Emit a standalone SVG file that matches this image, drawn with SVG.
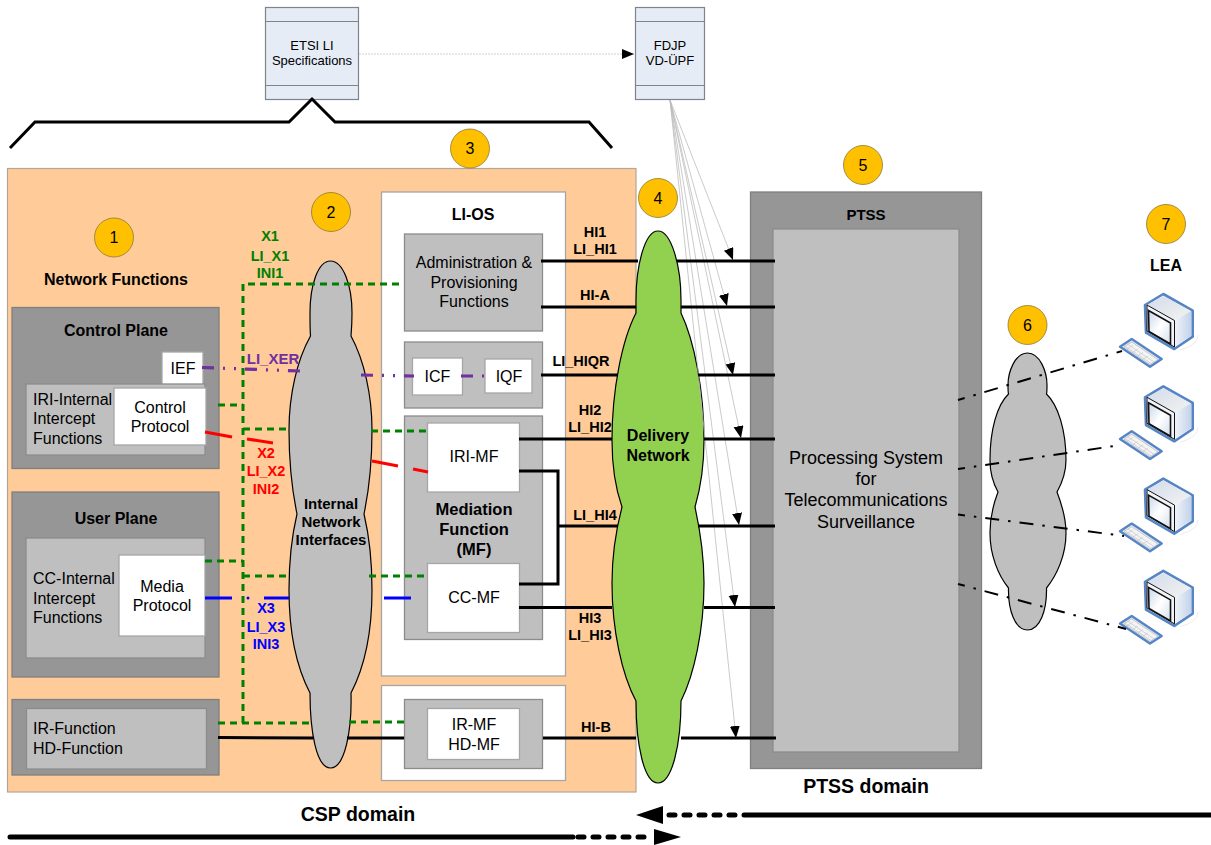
<svg xmlns="http://www.w3.org/2000/svg" xmlns:xlink="http://www.w3.org/1999/xlink" width="1211" height="845" viewBox="0 0 1211 845">
<style>
text{font-family:"Liberation Sans",Arial,sans-serif;text-anchor:middle;fill:#000}
.b{font-weight:bold}
.f15{font-size:16px}.f14{font-size:16px}
.s{text-anchor:start}
.lb{font-weight:bold;font-size:14.500px}
.dark{fill:#969696;stroke:#808080;stroke-width:1.3}
.mid{fill:#BFBFBF;stroke:#8c8c8c;stroke-width:1.3}
.wht{fill:#fff;stroke:#a6a6a6;stroke-width:1.3}
.spec{fill:#E6ECF6;stroke:#7f838c;stroke-width:1.2}
.num{fill:#FFC000;stroke:#8c7a3a;stroke-width:.8}
.cloud{stroke:#000;stroke-width:1.2}
.g{fill:none;stroke:#008000;stroke-width:3;stroke-dasharray:7 5}
.r{fill:none;stroke:#FF0000;stroke-width:3}
.bl{fill:none;stroke:#0000FF;stroke-width:3}
.p{fill:none;stroke:#7030A0;stroke-width:3.200;stroke-dasharray:12 9 2 9 2 9}
.k{fill:none;stroke:#000;stroke-width:3}
.dd{fill:none;stroke:#000;stroke-width:2;stroke-dasharray:14 9 2.500 9;stroke-dashoffset:7}
.t{fill:none;stroke:#bdbdbd;stroke-width:.8;marker-end:url(#ah)}
</style>
<defs>
<marker id="ah" markerUnits="userSpaceOnUse" markerWidth="14" markerHeight="12" refX="12" refY="5" orient="auto"><path d="M0 0L12 5L0 10Z" fill="#000"/></marker>
<linearGradient id="gf" x1="0" y1="0" x2="1" y2="1"><stop offset="0" stop-color="#c9d6ea"/><stop offset=".5" stop-color="#fff"/><stop offset="1" stop-color="#d5dfef"/></linearGradient>
<linearGradient id="gt" x1="0" y1="0" x2="1" y2="1"><stop offset="0" stop-color="#d3dced"/><stop offset="1" stop-color="#f3f3ef"/></linearGradient>
<linearGradient id="gs" x1="0" y1="0" x2="1" y2="0"><stop offset="0" stop-color="#f2f5fa"/><stop offset="1" stop-color="#c3d2ea"/></linearGradient>
<g id="pc">
<path d="M1180 350Q1198 345 1198 335" fill="none" stroke="#e6e6e6" stroke-width=".8"/>
<path d="M1163.300 294L1192.700 310.700V336.700L1174.300 349L1146 332.700L1145 305Z" fill="#fff" stroke="#5585C5" stroke-width="2.600" stroke-linejoin="round"/>
<path d="M1147 305L1163.500 296L1191 311L1174.500 320.500Z" fill="url(#gt)"/>
<path d="M1174.500 320.500L1191 311V336L1174.500 347Z" fill="url(#gs)"/>
<path d="M1147 305L1174.500 320.500V347L1147 331Z" fill="#f0f3f8" stroke="#111" stroke-width="1"/>
<path d="M1148.500 310.500L1170.500 323V344L1149 331.500Z" fill="url(#gf)" stroke="#111" stroke-width="1.600"/>
<path d="M1131.700 339L1161.700 359L1150 366.700L1120 346.700Z" fill="#e8ebee" stroke="#5585C5" stroke-width="2.400" stroke-linejoin="round"/>
<path d="M1131.700 342L1158 359.500L1150 364.500L1124 347Z" fill="#f4f4f4" stroke="#aab" stroke-width=".6"/>
<path d="M1128 344.500L1154 362M1125.500 346.500L1151 363.500M1133 345L1127 349M1138 349L1132 353M1143 352.500L1137 356.500M1148 356L1142 360" stroke="#c4c8cc" stroke-width=".7" fill="none"/>
</g>
</defs>

<rect width="1211" height="845" fill="#fff"/>

<g id="etsi"><rect class="spec" x="265.500" y="7.500" width="93" height="92"/><path class="spec" d="M265.500 21.500H358.500M265.500 85.500H358.500"/><text x="312" y="50" font-size="13">ETSI LI</text><text x="312" y="65" font-size="13">Specifications</text></g>
<g id="fdjp"><rect class="spec" x="635.500" y="7.500" width="69" height="92"/><path class="spec" d="M635.500 21.500H704.500M635.500 85.500H704.500"/><text x="670" y="50" font-size="13">FDJP</text><text x="670" y="65" font-size="13">VD-ÜPF</text></g>
<path id="brace" d="M10 148L35 122H289L312 99L335 122H589L612 148" fill="none" stroke="#000" stroke-width="3"/>

<g id="csp"><rect x="7.500" y="168.500" width="628.500" height="623.500" fill="#FFCC99" stroke="#b5a596" stroke-width="1.200"/></g>

<g id="network-functions-label"><text class="b" x="116" y="285" font-size="16">Network Functions</text></g>

<g id="control-plane"><rect class="dark" x="12" y="307.500" width="207" height="161"/><text class="b f15" x="116" y="336">Control Plane</text>
<rect class="wht" x="162" y="352" width="41" height="33"/><text x="183" y="374" class="f15">IEF</text>
<rect class="mid" x="26" y="384" width="179" height="71"/><text x="33" y="405" class="f14 s">IRI-Internal</text><text x="33" y="424" class="f14 s">Intercept</text><text x="33" y="444" class="f14 s">Functions</text>
<rect class="wht" x="114" y="388" width="92" height="57"/><text x="160" y="413" class="f14">Control</text><text x="160" y="432" class="f14">Protocol</text></g>

<g id="user-plane"><rect class="dark" x="12" y="492" width="207" height="185"/><text class="b f15" x="116" y="524">User Plane</text>
<rect class="mid" x="26" y="538" width="179" height="120"/><text x="33" y="584" class="f14 s">CC-Internal</text><text x="33" y="604" class="f14 s">Intercept</text><text x="33" y="623" class="f14 s">Functions</text>
<rect class="wht" x="119" y="555" width="86" height="81"/><text x="162" y="592" class="f14">Media</text><text x="162" y="611" class="f14">Protocol</text></g>

<g id="ir-function"><rect class="dark" x="12" y="699.500" width="207" height="75.500"/><rect class="mid" x="26.500" y="708.500" width="180" height="60.500"/><text x="33" y="734" class="f14 s">IR-Function</text><text x="33" y="754" class="f14 s">HD-Function</text></g>

<g id="li-os"><rect class="wht" x="381.500" y="192" width="184" height="484"/><text class="b" x="473" y="220" font-size="16">LI-OS</text>
<rect class="mid" x="404.500" y="234" width="138" height="97"/><text x="474" y="268" class="f14">Administration &amp;</text><text x="474" y="288" class="f14">Provisioning</text><text x="474" y="307" class="f14">Functions</text>
<rect class="mid" x="404.500" y="342" width="138" height="66"/><rect class="wht" x="412.500" y="358" width="50" height="37"/><text x="437.500" y="382" class="f15">ICF</text><rect class="wht" x="485" y="359" width="47" height="34"/><text x="509" y="382" class="f15">IQF</text>
<rect class="mid" x="404.500" y="416" width="138" height="223.500"/><rect class="wht" x="427.500" y="423" width="92" height="69"/><text x="474" y="462" class="f14">IRI-MF</text>
<text class="b" font-size="16.500" x="474" y="515">Mediation</text><text class="b" font-size="16.500" x="474" y="535">Function</text><text class="b" font-size="16.500" x="474" y="555">(MF)</text>
<rect class="wht" x="427.500" y="563.500" width="92" height="69"/><text x="474" y="603" class="f14">CC-MF</text></g>

<g id="ir-mf"><rect class="wht" x="381.500" y="685.500" width="184" height="95"/><rect class="mid" x="404.500" y="699.500" width="138" height="69"/><rect class="wht" x="427.500" y="708.500" width="92" height="51"/><text x="474" y="730" class="f14">IR-MF</text><text x="474" y="750" class="f14">HD-MF</text></g>

<g id="ptss"><rect class="dark" x="750.500" y="192" width="231" height="576.500"/><rect class="mid" x="773" y="229" width="186" height="523"/><text class="b" x="866" y="220" font-size="15">PTSS</text><text x="866" y="464" font-size="18">Processing System</text><text x="866" y="485" font-size="18">for</text><text x="866" y="506" font-size="18">Telecommunications</text><text x="866" y="528" font-size="18">Surveillance</text></g>

<g id="internal-cloud"><path class="cloud" fill="#BFBFBF" d="M330.500 261C318 261 310 285 310 313C310 322 310 330 310.500 336C297 360 289 395 289 430C289 465 292 490 297 514C292 535 289 560 289 590C289 635 298 670 310 693C310 730 316 768 330.500 768C345 768 352 730 351 693C363 670 372 635 372 590C372 560 369 535 364 514C369 490 372 465 372 430C372 395 364 360 351 336C351.500 330 352 322 352 313C352 285 343 261 330.500 261Z"/><text class="b" font-size="15" x="331" y="509">Internal</text><text class="b" font-size="15" x="331" y="527">Network</text><text class="b" font-size="15" x="331" y="545">Interfaces</text></g>

<g id="delivery-cloud"><path class="cloud" fill="#92D050" d="M658 231C645 231 636 265 636 300C636 305 636 309 636 313C622 340 612 390 612 440C612 465 616 490 622 507C616 530 612 555 612 583C612 630 622 675 636 701C636 745 644 783 658 783C672 783 681 745 681 701C694 675 704 630 704 583C704 555 700 530 695 507C700 490 704 465 704 440C704 390 694 340 681 313C681 309 681 305 681 300C681 265 671 231 658 231Z"/><text class="b" font-size="16" x="658" y="441">Delivery</text><text class="b" font-size="16" x="658" y="461">Network</text></g>

<g id="lea-cloud"><path class="cloud" fill="#BFBFBF" d="M1027.500 353C1015 353 1008 372 1008 385C1008 389 1008 392 1008.500 394C997 405 990 430 990 460C990 472 993 483 998 492C993 505 990 518 990 533C990 555 998 575 1008.500 588C1008 610 1015 630 1027.500 630C1040 630 1047 610 1046.500 588C1057 575 1066 555 1066 533C1066 518 1062 505 1057 492C1062 483 1066 472 1066 460C1066 430 1058 405 1046.500 394C1047 392 1047 389 1047 385C1047 372 1040 353 1027.500 353Z"/></g>

<g id="lea"><text class="b" x="1166" y="271" font-size="16">LEA</text>
<use xlink:href="#pc" href="#pc"/><use xlink:href="#pc" href="#pc" y="92.300"/><use xlink:href="#pc" href="#pc" y="184.600"/><use xlink:href="#pc" href="#pc" y="276.900"/></g>

<g id="n1"><circle class="num" cx="114" cy="237.500" r="19.500"/><text x="114" y="243" class="f15">1</text></g>
<g id="n2"><circle class="num" cx="331" cy="212" r="19.500"/><text x="331" y="218" class="f15">2</text></g>
<g id="n3"><circle class="num" cx="470" cy="148.500" r="19.500"/><text x="470" y="154" class="f15">3</text></g>
<g id="n4"><circle class="num" cx="658" cy="198" r="19.500"/><text x="658" y="204" class="f15">4</text></g>
<g id="n5"><circle class="num" cx="863" cy="165" r="19.500"/><text x="863" y="171" class="f15">5</text></g>
<g id="n6"><circle class="num" cx="1027.500" cy="325" r="19.500"/><text x="1027.500" y="331" class="f15">6</text></g>
<g id="n7"><circle class="num" cx="1166" cy="224" r="19.500"/><text x="1166" y="230" class="f15">7</text></g>

<g id="connectors">
<path d="M359 54H634" fill="none" stroke="#c4c4c4" stroke-width=".8" stroke-dasharray="2 1" marker-end="url(#ah)"/>
<path class="t" d="M670 100L733 260"/><path class="t" d="M670 100L727 306"/><path class="t" d="M670 100L733 375"/><path class="t" d="M670 100L741 438"/><path class="t" d="M670 100L739 525"/><path class="t" d="M670 100L735 607"/><path class="t" d="M670 100L736 738"/>

<path class="g" d="M243 723V284H404"/>
<path class="g" d="M218 405H243M243 429H289M371 431H428M205 561H243M243 576H289M369 576H428M218 723H311M349 722H404"/>
<path class="r" d="M205 432L232 437M247 439L273 443M372 461L398 466M413 469L428 472"/>
<path class="bl" d="M205 598H232M264 598H289M384 598H411"/><circle cx="248" cy="598" r="1.500" fill="#0000FF"/>
<path class="p" d="M202 367.500L300 371"/><path class="p" d="M361 375L414 376"/><path class="p" d="M461 376L485 376"/>

<path class="k" d="M541 261H638M677 261H775M541 307H636M681 307H775M541 375H618M698 375H775M519 439H612M704 439H775M558 526H618M698 526H775M519 607.500H612M704 607.500H775M543 738H636M681 738H776M218 737.500L313 738M347 738H404"/>
<path class="k" d="M519 471H558V584H519"/>

<path class="dd" d="M958 400L1122 351"/><path class="dd" d="M958 469L1121 445"/><path class="dd" d="M958 514.500L1124 536"/><path class="dd" d="M958 584L1126 629"/>

<path d="M10 837H573" fill="none" stroke="#000" stroke-width="5" stroke-linecap="round"/>
<path d="M578 837H650" fill="none" stroke="#000" stroke-width="5" stroke-dasharray="6 9" stroke-linecap="round"/>
<path d="M654 829L681 837L654 845Z" fill="#000"/>
<path d="M744 815H1211" fill="none" stroke="#000" stroke-width="5" stroke-linecap="round"/>
<path d="M669 815H738" fill="none" stroke="#000" stroke-width="5" stroke-dasharray="6 9" stroke-linecap="round"/>
<path d="M636 815L663 806V824Z" fill="#000"/>
</g>

<g id="labels">
<text class="lb" style="fill:#008000" x="270" y="241">X1</text><text class="lb" style="fill:#008000" x="270" y="261">LI_X1</text><text class="lb" style="fill:#008000" x="270" y="278">INI1</text>
<text class="b" style="fill:#7030A0" x="273" y="364" font-size="15">LI_XER</text>
<text class="lb" style="fill:#FF0000" x="266" y="458">X2</text><text class="lb" style="fill:#FF0000" x="266" y="476">LI_X2</text><text class="lb" style="fill:#FF0000" x="266" y="494">INI2</text>
<text class="lb" style="fill:#0000FF" x="266" y="613">X3</text><text class="lb" style="fill:#0000FF" x="266" y="632">LI_X3</text><text class="lb" style="fill:#0000FF" x="266" y="649">INI3</text>
<text class="lb" x="595" y="237">HI1</text><text class="lb" x="595" y="254">LI_HI1</text>
<text class="lb" x="595" y="300">HI-A</text>
<text class="lb" x="581" y="366">LI_HIQR</text>
<text class="lb" x="590" y="415">HI2</text><text class="lb" x="590" y="432">LI_HI2</text>
<text class="lb" x="595" y="520">LI_HI4</text>
<text class="lb" x="590" y="623">HI3</text><text class="lb" x="590" y="640">LI_HI3</text>
<text class="lb" x="596" y="732">HI-B</text>
<text class="b" x="358" y="821" font-size="19.500">CSP domain</text>
<text class="b" x="866" y="793" font-size="19.500">PTSS domain</text>
</g>
</svg>
